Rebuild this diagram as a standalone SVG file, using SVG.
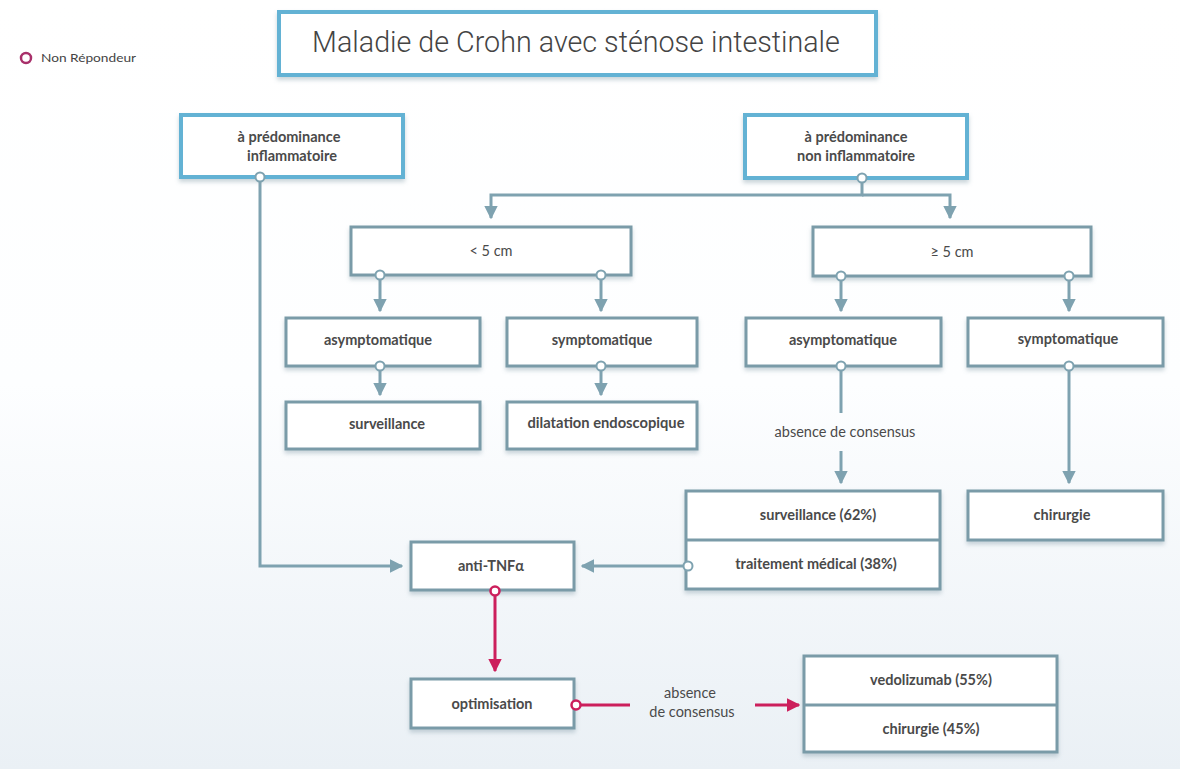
<svg xmlns="http://www.w3.org/2000/svg" width="1180" height="769" viewBox="0 0 1180 769">
<defs>
<linearGradient id="bg" x1="0" y1="0" x2="0" y2="1">
<stop offset="0" stop-color="#ffffff"/>
<stop offset="0.5" stop-color="#fdfeff"/>
<stop offset="1" stop-color="#eaf0f5"/>
</linearGradient>
<marker id="ag" viewBox="0 0 10 10" refX="9" refY="5" markerWidth="4.5" markerHeight="4.5" orient="auto" markerUnits="strokeWidth">
<path d="M0,0 L10,5 L0,10 Z" fill="#7ea2b0"/>
</marker>
<marker id="ar" viewBox="0 0 10 10" refX="9" refY="5" markerWidth="4.5" markerHeight="4.5" orient="auto" markerUnits="strokeWidth">
<path d="M0,0 L10,5 L0,10 Z" fill="#cc1f5c"/>
</marker>
<filter id="sh" x="-5%" y="-10%" width="110%" height="130%">
<feDropShadow dx="0" dy="3" stdDeviation="2" flood-color="#8aa2ad" flood-opacity="0.45"/>
</filter>
</defs>
<style>
.t{font-family:Lato,"Liberation Sans",sans-serif;font-size:14.5px;font-weight:bold;fill:#4a4a4a;text-anchor:middle}
.n{font-weight:normal}
.bb{fill:#fff;stroke:#63b2d4;stroke-width:4}
.gb{fill:#fff;stroke:#7a9ba8;stroke-width:3}
.c{fill:none;stroke:#7ea2b0;stroke-width:3}
.r{fill:none;stroke:#cc1f5c;stroke-width:3}
.dg{fill:#fff;stroke:#7ea2b0;stroke-width:2}
.dr{fill:#fff;stroke:#cc1f5c;stroke-width:2.5}
</style>
<rect width="1180" height="769" fill="url(#bg)"/>

<g id="legend">
<circle cx="26" cy="58" r="5" fill="none" stroke="#a8306a" stroke-width="2.5"/>
<text x="41" y="62" font-family="Lato,'Liberation Sans',sans-serif" font-size="11" fill="#444" textLength="95" lengthAdjust="spacingAndGlyphs">Non Répondeur</text>
</g>

<g id="title">
<rect x="279" y="12" width="597" height="63" fill="#fff" stroke="#63b2d4" stroke-width="4" filter="url(#sh)"/>
<text x="576" y="52" font-family="Roboto,'Liberation Sans',sans-serif" font-size="28.7" font-weight="300" fill="#444" text-anchor="middle">Maladie de Crohn avec sténose intestinale</text>
</g>

<g id="connectors">
<path class="c" d="M260,177 V566 H402" marker-end="url(#ag)"/>
<path class="c" d="M862,178 V195 H491 V218" marker-end="url(#ag)"/>
<path class="c" d="M862,195 H950 V218" marker-end="url(#ag)"/>
<path class="c" d="M380,275 V311" marker-end="url(#ag)"/>
<path class="c" d="M601,275 V311" marker-end="url(#ag)"/>
<path class="c" d="M841,276 V311" marker-end="url(#ag)"/>
<path class="c" d="M1069,276 V311" marker-end="url(#ag)"/>
<path class="c" d="M380,366 V395" marker-end="url(#ag)"/>
<path class="c" d="M601,366 V395" marker-end="url(#ag)"/>
<path class="c" d="M841,366 V413"/>
<path class="c" d="M841,451 V483" marker-end="url(#ag)"/>
<path class="c" d="M1069,366 V483" marker-end="url(#ag)"/>
<path class="c" d="M688,566 H582" marker-end="url(#ag)"/>
<path class="r" d="M495,590 V671" marker-end="url(#ar)"/>
<path class="r" d="M576,705 H630"/>
<path class="r" d="M755,705 H799" marker-end="url(#ar)"/>
<text class="t n" x="845" y="437">absence de consensus</text>
<text class="t n" x="690" y="698">absence</text>
<text class="t n" x="692" y="717">de consensus</text>
</g>

<g id="n-inflam">
<rect class="bb" x="181" y="115" width="222" height="62" filter="url(#sh)"/>
<text class="t" x="289" y="142">à prédominance</text>
<text class="t" x="292" y="161">inflammatoire</text>
<circle class="dg" cx="260" cy="177" r="4.5"/>
</g>

<g id="n-noninflam">
<rect class="bb" x="745" y="115" width="222" height="63" filter="url(#sh)"/>
<text class="t" x="856" y="142">à prédominance</text>
<text class="t" x="856" y="161">non inflammatoire</text>
<circle class="dg" cx="862" cy="178" r="4.5"/>
</g>

<g id="n-lt5">
<rect class="gb" x="351" y="227" width="280" height="48" filter="url(#sh)"/>
<text class="t n" x="491" y="256">&lt; 5 cm</text>
<circle class="dg" cx="380" cy="275" r="4.5"/>
<circle class="dg" cx="601" cy="275" r="4.5"/>
</g>

<g id="n-ge5">
<rect class="gb" x="813" y="227" width="278" height="49" filter="url(#sh)"/>
<text class="t n" x="952" y="257">≥ 5 cm</text>
<circle class="dg" cx="841" cy="276" r="4.5"/>
<circle class="dg" cx="1069" cy="276" r="4.5"/>
</g>

<g id="n-asym1">
<rect class="gb" x="286" y="318" width="194" height="48" filter="url(#sh)"/>
<text class="t" x="378" y="345">asymptomatique</text>
<circle class="dg" cx="380" cy="366" r="4.5"/>
</g>

<g id="n-sym1">
<rect class="gb" x="507" y="318" width="190" height="48" filter="url(#sh)"/>
<text class="t" x="602" y="345">symptomatique</text>
<circle class="dg" cx="601" cy="366" r="4.5"/>
</g>

<g id="n-asym2">
<rect class="gb" x="746" y="318" width="195" height="48" filter="url(#sh)"/>
<text class="t" x="843" y="345">asymptomatique</text>
<circle class="dg" cx="841" cy="366" r="4.5"/>
</g>

<g id="n-sym2">
<rect class="gb" x="968" y="318" width="195" height="48" filter="url(#sh)"/>
<text class="t" x="1068" y="344">symptomatique</text>
<circle class="dg" cx="1069" cy="366" r="4.5"/>
</g>

<g id="n-surv1">
<rect class="gb" x="286" y="402" width="194" height="47" filter="url(#sh)"/>
<text class="t" x="387" y="429">surveillance</text>
</g>

<g id="n-dilat">
<rect class="gb" x="507" y="402" width="190" height="47" filter="url(#sh)"/>
<text class="t" x="606" y="428" textLength="157" lengthAdjust="spacingAndGlyphs">dilatation endoscopique</text>
</g>

<g id="n-surv2">
<rect class="gb" x="686" y="491" width="254" height="98" filter="url(#sh)"/>
<line x1="686" y1="540" x2="940" y2="540" stroke="#7a9ba8" stroke-width="3"/>
<text class="t" x="818" y="520">surveillance (62%)</text>
<text class="t" x="816" y="569">traitement médical (38%)</text>
<circle class="dg" cx="688" cy="566" r="4.5"/>
</g>

<g id="n-chir1">
<rect class="gb" x="968" y="491" width="195" height="49" filter="url(#sh)"/>
<text class="t" x="1062" y="520">chirurgie</text>
</g>

<g id="n-antitnf">
<rect class="gb" x="411" y="542" width="163" height="48" filter="url(#sh)"/>
<text class="t" x="491" y="571">anti-TNFα</text>
<circle class="dr" cx="495" cy="591" r="4.5"/>
</g>

<g id="n-optim">
<rect class="gb" x="411" y="679" width="163" height="49" filter="url(#sh)"/>
<text class="t" x="492" y="709">optimisation</text>
<circle class="dr" cx="576" cy="705" r="4.5"/>
</g>

<g id="n-vedo">
<rect class="gb" x="804" y="656" width="253" height="96" filter="url(#sh)"/>
<line x1="804" y1="705" x2="1057" y2="705" stroke="#7a9ba8" stroke-width="3"/>
<text class="t" x="931" y="685">vedolizumab (55%)</text>
<text class="t" x="931" y="734">chirurgie (45%)</text>
</g>
</svg>
